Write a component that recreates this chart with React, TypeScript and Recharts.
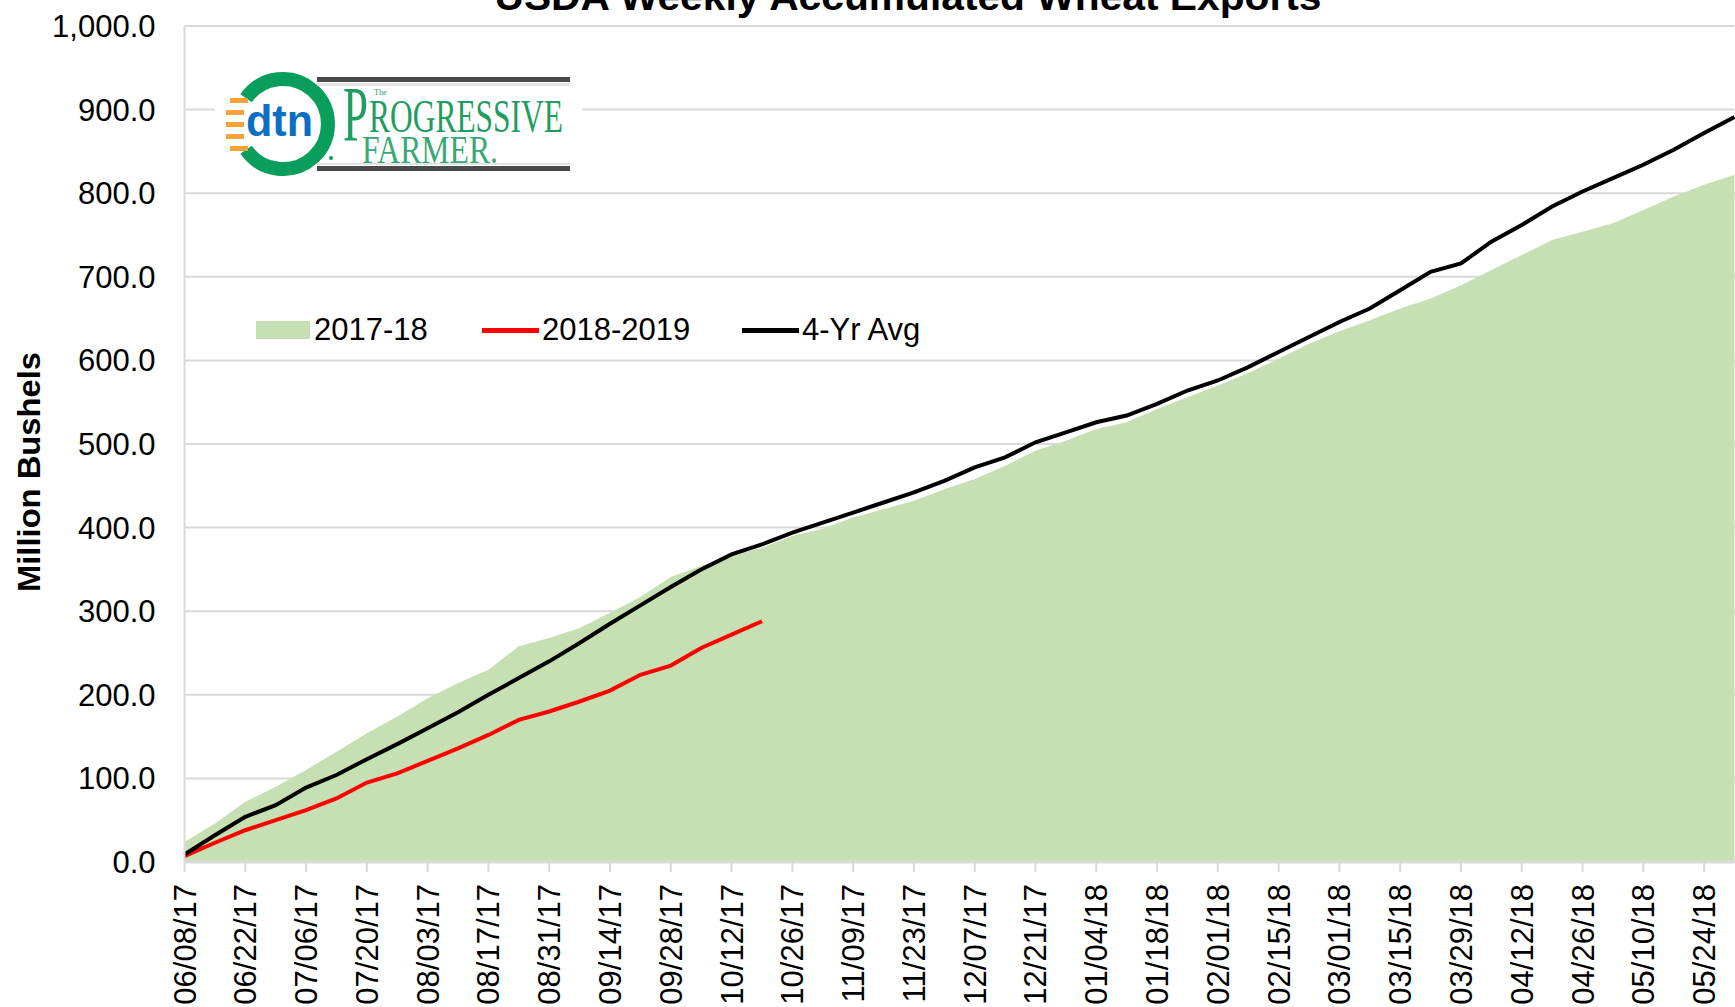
import { ComposedChart, Area, Line, XAxis, YAxis, CartesianGrid, Legend } from 'recharts'

const FONT = '"Liberation Sans", Arial, sans-serif'
const SERIF = '"Liberation Serif", "Times New Roman", serif'

// weekly reporting dates, marketing year starting June
const weeks = [
    '06/08/17', '06/15/17', '06/22/17', '06/29/17', '07/06/17', '07/13/17', '07/20/17', '07/27/17',
    '08/03/17', '08/10/17', '08/17/17', '08/24/17', '08/31/17', '09/07/17', '09/14/17', '09/21/17',
    '09/28/17', '10/05/17', '10/12/17', '10/19/17', '10/26/17', '11/02/17', '11/09/17', '11/16/17',
    '11/23/17', '11/30/17', '12/07/17', '12/14/17', '12/21/17', '12/28/17', '01/04/18', '01/11/18',
    '01/18/18', '01/25/18', '02/01/18', '02/08/18', '02/15/18', '02/22/18', '03/01/18', '03/08/18',
    '03/15/18', '03/22/18', '03/29/18', '04/05/18', '04/12/18', '04/19/18', '04/26/18', '05/03/18',
    '05/10/18', '05/17/18', '05/24/18', '05/31/18',
]

const exports1718 = [
    24, 46, 72, 90, 110, 132, 154, 174, 196, 214, 230, 258, 268, 280, 298, 317,
    341, 354, 366, 376, 390, 399, 412, 422, 432, 446, 458, 474, 492, 504, 518, 526,
    542, 556, 570, 585, 602, 620, 635, 648, 662, 674, 690, 708, 726, 744, 754, 764,
    780, 796, 810, 822,
]

const exports1819 = [
    7, 23, 38, 50, 62, 76, 95, 106, 121, 136, 152, 170, 180, 192, 205, 224,
    235, 256, 272, 288,
]

const fourYrAvg = [
    9, 32, 54, 68, 89, 104, 123, 141, 160, 179, 200, 220, 240, 262, 285, 307,
    329, 350, 368, 380, 394, 406, 418, 430, 442, 456, 472, 484, 502, 514, 526, 534,
    548, 564, 576, 592, 610, 628, 646, 662, 684, 706, 716, 742, 762, 784, 802, 818,
    834, 852, 872, 891,
]

const yTicks = [0, 100, 200, 300, 400, 500, 600, 700, 800, 900, 1000]

const rows = weeks.map((week, i) => ({
    week,
    y1718: exports1718[i],
    y1819: i < exports1819.length ? exports1819[i] : null,
    avg: fourYrAvg[i],
}))

const GRID = '#d9d9d9'

function DateTick(props: any) {
    const { x, y, payload } = props
    return (
        <text
            transform={`translate(${x + 11},${y + 10}) rotate(-90)`}
            textAnchor="end"
            fontSize={31}
            fontFamily={FONT}
            fill="#000"
        >
            {payload.value}
        </text>
    )
}

function LegendBox(props: any) {
    const items = props.payload || []
    const widths = [226, 260, 200]
    return (
        <div style={{ display: 'flex', alignItems: 'center', fontFamily: FONT, fontSize: 31, lineHeight: '36px', color: '#000' }}>
            {items.map((it: any, i: number) => (
                <div key={it.value} style={{ display: 'flex', alignItems: 'center', width: widths[i] }}>
                    {it.dataKey === 'y1718' ? (
                        <span style={{ display: 'inline-block', width: 54, height: 18, background: '#c6e0b4', marginRight: 4 }} />
                    ) : (
                        <span style={{ display: 'inline-block', width: 57, height: 5, background: it.color, marginRight: 3 }} />
                    )}
                    <span>{it.value}</span>
                </div>
            ))}
        </div>
    )
}

function Overlay() {
    return (
        <svg width={1735} height={1007} style={{ position: 'absolute', left: 0, top: 0, pointerEvents: 'none' }}>
            <text x={908} y={10} textAnchor="middle" fontFamily={FONT} fontWeight="bold" fontSize={38} textLength={827} lengthAdjust="spacingAndGlyphs">
                USDA Weekly Accumulated Wheat Exports
            </text>
            <text transform="translate(40,472) rotate(-90)" textAnchor="middle" fontFamily={FONT} fontWeight="bold" fontSize={32} textLength={240} lengthAdjust="spacingAndGlyphs">
                Million Bushels
            </text>

            {/* logo */}
            <rect x={215} y={62} width={367} height={121} fill="#fff" />
            <path d="M 246.1 98.2 A 45 45 0 1 1 246.1 149.8" fill="none" stroke="#0a9e5c" strokeWidth={14} />
            <circle cx={331} cy={158} r={2} fill="#0a9e5c" />
            {[98, 110, 122, 134, 146].map((yy, i) => (
                <rect key={yy} x={i === 0 || i === 4 ? 230 : 226} y={yy} width={18} height={5} fill="#f7a13a" />
            ))}
            <text x={246} y={136} fontFamily={FONT} fontWeight="bold" fontSize={44} fill="#0b6fc2" textLength={67} lengthAdjust="spacingAndGlyphs">
                dtn
            </text>
            <rect x={317} y={77} width={253} height={5} fill="#4a4a4a" />
            <rect x={317} y={83} width={253} height={3} fill="#e3e3e3" />
            <rect x={317} y={163} width={253} height={2} fill="#e3e3e3" />
            <rect x={317} y={166} width={253} height={5} fill="#4a4a4a" />
            <text x={343} y={140} fontFamily={SERIF} fontSize={78} fill="#1f9d63" textLength={25} lengthAdjust="spacingAndGlyphs">P</text>
            <text x={374} y={95} fontFamily={SERIF} fontSize={8} fill="#1f9d63">The</text>
            <text x={369} y={132} fontFamily={SERIF} fontSize={46} fill="#1f9d63" textLength={194} lengthAdjust="spacingAndGlyphs">
                ROGRESSIVE
            </text>
            <text x={362} y={163} fontFamily={SERIF} fontSize={40} fill="#3aa874" textLength={136} lengthAdjust="spacingAndGlyphs">
                FARMER.
            </text>
        </svg>
    )
}

export default function App() {
    return (
        <div style={{ position: 'fixed', left: 0, top: 0, width: 1735, height: 1007, overflow: 'hidden', background: '#fff' }}>
            <ComposedChart
                width={1760}
                height={1007}
                data={rows}
                margin={{ top: 26, right: 25.5, bottom: 0, left: 0 }}
            >
                <CartesianGrid vertical={false} stroke={GRID} strokeWidth={2} />
                <XAxis
                    dataKey="week"
                    scale="point"
                    padding={{ left: 0, right: 0 }}
                    interval={1}
                    height={145}
                    tickSize={10}
                    tickLine={{ stroke: GRID, strokeWidth: 2 }}
                    axisLine={{ stroke: GRID, strokeWidth: 3 }}
                    tick={(p: any) => <DateTick {...p} />}
                />
                <YAxis
                    domain={[0, 1000]}
                    ticks={yTicks}
                    width={184.5}
                    tickSize={0}
                    tickMargin={29}
                    tickLine={false}
                    axisLine={{ stroke: GRID, strokeWidth: 2 }}
                    tick={{ fontSize: 31, fontFamily: FONT, fill: '#000' }}
                    tickFormatter={(v: number) => v.toLocaleString('en-US', { minimumFractionDigits: 1, maximumFractionDigits: 1 })}
                />
                <Area
                    type="linear"
                    dataKey="y1718"
                    name="2017-18"
                    fill="#c6e0b4"
                    fillOpacity={1}
                    stroke="none"
                    isAnimationActive={false}
                />
                <Line
                    type="linear"
                    dataKey="y1819"
                    name="2018-2019"
                    stroke="#ff0000"
                    strokeWidth={4}
                    dot={false}
                    isAnimationActive={false}
                />
                <Line
                    type="linear"
                    dataKey="avg"
                    name="4-Yr Avg"
                    stroke="#000"
                    strokeWidth={4}
                    dot={false}
                    isAnimationActive={false}
                />
                <Legend
                    layout="horizontal"
                    verticalAlign="middle"
                    align="center"
                    wrapperStyle={{ left: 256, top: 312, width: 720 }}
                    content={(p: any) => <LegendBox {...p} />}
                />
            </ComposedChart>
            <Overlay />
        </div>
    )
}
